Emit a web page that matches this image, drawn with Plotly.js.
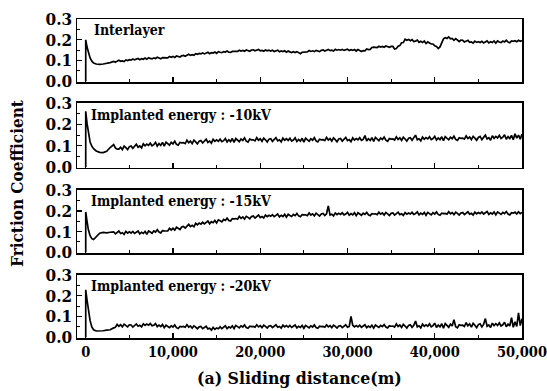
<!DOCTYPE html>
<html>
<head>
<meta charset="utf-8">
<script src="https://cdn.plot.ly/plotly-3.0.1.min.js"></script>
<style>
  html, body { margin: 0; padding: 0; background: #fff; }
  #chart { width: 547px; height: 391px; }
</style>
</head>
<body>
<div id="chart"></div>
<script>
// Sliding distance (m)
const distance = [0, 0, 150, 300, 500, 700, 900, 1200, 1600, 2000, 2400, 2800,
  3200, 3400, 3600, 3800, 4000, 4200, 4400, 4600, 4800, 5000,
  5200, 5400, 5600, 5800, 6000, 6200, 6400, 6600, 6800, 7000,
  7200, 7400, 7600, 7800, 8000, 8200, 8400, 8600, 8800, 9000,
  9200, 9400, 9600, 9800, 10000, 10200, 10400, 10600, 10800, 11000,
  11200, 11400, 11600, 11800, 12000, 12200, 12400, 12600, 12800, 13000,
  13200, 13400, 13600, 13800, 14000, 14200, 14400, 14600, 14800, 15000,
  15200, 15400, 15600, 15800, 16000, 16200, 16400, 16600, 16800, 17000,
  17200, 17400, 17600, 17800, 18000, 18200, 18400, 18600, 18800, 19000,
  19200, 19400, 19600, 19800, 20000, 20200, 20400, 20600, 20800, 21000,
  21200, 21400, 21600, 21800, 22000, 22200, 22400, 22600, 22800, 23000,
  23200, 23400, 23600, 23800, 24000, 24200, 24400, 24600, 24800, 25000,
  25200, 25400, 25600, 25800, 26000, 26200, 26400, 26600, 26800, 27000,
  27200, 27400, 27600, 27800, 28000, 28200, 28400, 28600, 28800, 29000,
  29200, 29400, 29600, 29800, 30000, 30200, 30400, 30600, 30800, 31000,
  31200, 31400, 31600, 31800, 32000, 32200, 32400, 32600, 32800, 33000,
  33200, 33400, 33600, 33800, 34000, 34200, 34400, 34600, 34800, 35000,
  35200, 35400, 35600, 35800, 36000, 36200, 36400, 36600, 36800, 37000,
  37200, 37400, 37600, 37800, 38000, 38200, 38400, 38600, 38800, 39000,
  39200, 39400, 39600, 39800, 40000, 40200, 40400, 40600, 40800, 41000,
  41200, 41400, 41600, 41800, 42000, 42200, 42400, 42600, 42800, 43000,
  43200, 43400, 43600, 43800, 44000, 44200, 44400, 44600, 44800, 45000,
  45200, 45400, 45600, 45800, 46000, 46200, 46400, 46600, 46800, 47000,
  47200, 47400, 47600, 47800, 48000, 48200, 48400, 48600, 48800, 49000,
  49200, 49400, 49600, 49800, 50000];

// Friction coefficient, Interlayer
const interlayer = [0, 0.200, 0.165, 0.137, 0.112, 0.097, 0.088, 0.083, 0.081, 0.083, 0.086, 0.090,
  0.096, 0.092, 0.097, 0.101, 0.096, 0.098, 0.095, 0.103, 0.100, 0.104,
  0.102, 0.107, 0.103, 0.105, 0.110, 0.104, 0.109, 0.106, 0.112, 0.106,
  0.113, 0.110, 0.108, 0.113, 0.110, 0.116, 0.110, 0.108, 0.114, 0.113,
  0.114, 0.113, 0.120, 0.116, 0.120, 0.115, 0.122, 0.120, 0.117, 0.123,
  0.125, 0.121, 0.126, 0.130, 0.125, 0.128, 0.125, 0.133, 0.130, 0.134,
  0.132, 0.137, 0.132, 0.135, 0.140, 0.133, 0.138, 0.136, 0.141, 0.135,
  0.143, 0.140, 0.138, 0.143, 0.141, 0.146, 0.140, 0.139, 0.144, 0.144,
  0.145, 0.144, 0.150, 0.146, 0.149, 0.145, 0.151, 0.149, 0.145, 0.151,
  0.152, 0.147, 0.151, 0.153, 0.147, 0.149, 0.145, 0.151, 0.147, 0.150,
  0.146, 0.150, 0.144, 0.146, 0.150, 0.142, 0.146, 0.143, 0.147, 0.140,
  0.146, 0.142, 0.139, 0.143, 0.139, 0.143, 0.136, 0.133, 0.140, 0.141,
  0.143, 0.142, 0.148, 0.144, 0.147, 0.143, 0.149, 0.147, 0.143, 0.149,
  0.151, 0.146, 0.150, 0.154, 0.148, 0.150, 0.146, 0.154, 0.150, 0.153,
  0.150, 0.154, 0.149, 0.151, 0.155, 0.148, 0.152, 0.149, 0.153, 0.146,
  0.153, 0.149, 0.144, 0.148, 0.147, 0.156, 0.153, 0.154, 0.163, 0.165,
  0.164, 0.163, 0.169, 0.165, 0.168, 0.164, 0.170, 0.168, 0.164, 0.168,
  0.168, 0.156, 0.158, 0.169, 0.172, 0.186, 0.187, 0.203, 0.198, 0.202,
  0.196, 0.201, 0.192, 0.194, 0.199, 0.188, 0.193, 0.187, 0.194, 0.182,
  0.190, 0.185, 0.180, 0.180, 0.171, 0.168, 0.158, 0.166, 0.189, 0.205,
  0.210, 0.207, 0.214, 0.205, 0.207, 0.198, 0.206, 0.200, 0.192, 0.199,
  0.198, 0.190, 0.195, 0.198, 0.188, 0.190, 0.184, 0.194, 0.188, 0.191,
  0.187, 0.193, 0.185, 0.189, 0.195, 0.185, 0.191, 0.187, 0.195, 0.184,
  0.195, 0.190, 0.187, 0.194, 0.190, 0.198, 0.189, 0.186, 0.195, 0.193,
  0.196, 0.191, 0.198, 0.193, 0.197];

// Implanted energy : -10kV
const kv10 = [0, 0.262, 0.205, 0.160, 0.118, 0.098, 0.086, 0.076, 0.069, 0.068, 0.074, 0.092,
  0.106, 0.090, 0.084, 0.084, 0.093, 0.082, 0.098, 0.091, 0.082, 0.096,
  0.099, 0.088, 0.099, 0.107, 0.093, 0.099, 0.090, 0.109, 0.100, 0.108,
  0.102, 0.112, 0.100, 0.105, 0.116, 0.099, 0.110, 0.102, 0.116, 0.098,
  0.117, 0.110, 0.103, 0.116, 0.109, 0.122, 0.107, 0.103, 0.116, 0.114,
  0.115, 0.110, 0.126, 0.114, 0.122, 0.110, 0.126, 0.118, 0.109, 0.122,
  0.125, 0.113, 0.124, 0.131, 0.116, 0.122, 0.112, 0.130, 0.121, 0.128,
  0.121, 0.131, 0.119, 0.124, 0.134, 0.118, 0.128, 0.120, 0.134, 0.116,
  0.134, 0.126, 0.119, 0.132, 0.125, 0.137, 0.122, 0.117, 0.131, 0.128,
  0.128, 0.123, 0.138, 0.126, 0.133, 0.121, 0.136, 0.128, 0.118, 0.131,
  0.133, 0.121, 0.131, 0.138, 0.123, 0.128, 0.118, 0.136, 0.126, 0.133,
  0.125, 0.135, 0.122, 0.127, 0.137, 0.120, 0.130, 0.122, 0.135, 0.117,
  0.136, 0.128, 0.121, 0.133, 0.126, 0.138, 0.123, 0.118, 0.131, 0.128,
  0.129, 0.124, 0.139, 0.127, 0.134, 0.122, 0.137, 0.129, 0.119, 0.132,
  0.134, 0.122, 0.132, 0.139, 0.124, 0.129, 0.119, 0.137, 0.127, 0.134,
  0.128, 0.138, 0.125, 0.130, 0.148, 0.123, 0.133, 0.125, 0.138, 0.120,
  0.139, 0.131, 0.124, 0.136, 0.129, 0.141, 0.126, 0.121, 0.134, 0.131,
  0.132, 0.127, 0.142, 0.130, 0.137, 0.125, 0.140, 0.132, 0.122, 0.135,
  0.138, 0.126, 0.136, 0.150, 0.128, 0.133, 0.123, 0.141, 0.131, 0.138,
  0.132, 0.142, 0.129, 0.134, 0.144, 0.127, 0.137, 0.129, 0.142, 0.124,
  0.143, 0.135, 0.128, 0.140, 0.133, 0.145, 0.130, 0.125, 0.138, 0.135,
  0.136, 0.131, 0.146, 0.134, 0.141, 0.129, 0.144, 0.136, 0.126, 0.139,
  0.144, 0.129, 0.141, 0.150, 0.132, 0.138, 0.126, 0.147, 0.135, 0.144,
  0.137, 0.149, 0.134, 0.140, 0.152, 0.131, 0.143, 0.134, 0.149, 0.128,
  0.156, 0.136, 0.150, 0.131, 0.155];

// Implanted energy : -15kV
const kv15 = [0, 0.195, 0.150, 0.110, 0.080, 0.066, 0.062, 0.075, 0.092, 0.096, 0.094, 0.097,
  0.099, 0.089, 0.097, 0.103, 0.091, 0.095, 0.087, 0.101, 0.093, 0.099,
  0.093, 0.101, 0.091, 0.095, 0.103, 0.089, 0.097, 0.091, 0.101, 0.087,
  0.103, 0.098, 0.092, 0.103, 0.098, 0.109, 0.098, 0.094, 0.105, 0.104,
  0.105, 0.103, 0.116, 0.108, 0.116, 0.107, 0.121, 0.117, 0.110, 0.122,
  0.125, 0.117, 0.127, 0.135, 0.124, 0.130, 0.124, 0.140, 0.133, 0.141,
  0.136, 0.145, 0.137, 0.142, 0.151, 0.138, 0.148, 0.143, 0.154, 0.142,
  0.157, 0.152, 0.147, 0.159, 0.154, 0.165, 0.154, 0.151, 0.163, 0.162,
  0.163, 0.160, 0.173, 0.164, 0.171, 0.161, 0.174, 0.169, 0.162, 0.173,
  0.175, 0.165, 0.174, 0.180, 0.168, 0.173, 0.166, 0.180, 0.172, 0.179,
  0.174, 0.182, 0.172, 0.177, 0.185, 0.171, 0.179, 0.173, 0.184, 0.170,
  0.184, 0.178, 0.173, 0.183, 0.177, 0.188, 0.176, 0.172, 0.182, 0.181,
  0.181, 0.177, 0.190, 0.180, 0.186, 0.176, 0.189, 0.182, 0.175, 0.185,
  0.188, 0.178, 0.186, 0.224, 0.180, 0.184, 0.176, 0.190, 0.182, 0.188,
  0.183, 0.191, 0.181, 0.185, 0.193, 0.179, 0.187, 0.181, 0.191, 0.177,
  0.191, 0.185, 0.179, 0.189, 0.183, 0.193, 0.181, 0.177, 0.187, 0.185,
  0.186, 0.182, 0.194, 0.184, 0.190, 0.180, 0.192, 0.186, 0.178, 0.188,
  0.190, 0.180, 0.188, 0.194, 0.182, 0.186, 0.178, 0.192, 0.184, 0.190,
  0.185, 0.193, 0.183, 0.187, 0.195, 0.181, 0.189, 0.183, 0.193, 0.179,
  0.193, 0.187, 0.181, 0.191, 0.185, 0.195, 0.183, 0.179, 0.189, 0.187,
  0.188, 0.184, 0.196, 0.186, 0.192, 0.182, 0.194, 0.188, 0.180, 0.190,
  0.192, 0.182, 0.190, 0.196, 0.184, 0.188, 0.180, 0.194, 0.186, 0.192,
  0.187, 0.195, 0.185, 0.189, 0.197, 0.183, 0.191, 0.185, 0.195, 0.181,
  0.195, 0.189, 0.183, 0.193, 0.187, 0.197, 0.185, 0.181, 0.191, 0.189,
  0.194, 0.185, 0.196, 0.187, 0.192];

// Implanted energy : -20kV
const kv20 = [0, 0.229, 0.180, 0.133, 0.080, 0.050, 0.036, 0.030, 0.029, 0.031, 0.034, 0.036,
  0.045, 0.048, 0.062, 0.053, 0.060, 0.050, 0.063, 0.057, 0.050, 0.060,
  0.059, 0.049, 0.058, 0.064, 0.053, 0.058, 0.050, 0.065, 0.057, 0.064,
  0.058, 0.066, 0.055, 0.058, 0.066, 0.051, 0.058, 0.051, 0.061, 0.046,
  0.058, 0.052, 0.046, 0.055, 0.049, 0.059, 0.046, 0.042, 0.052, 0.050,
  0.052, 0.048, 0.060, 0.049, 0.054, 0.044, 0.055, 0.049, 0.041, 0.050,
  0.052, 0.041, 0.048, 0.053, 0.040, 0.043, 0.034, 0.047, 0.038, 0.045,
  0.041, 0.050, 0.041, 0.046, 0.055, 0.041, 0.050, 0.045, 0.055, 0.042,
  0.057, 0.051, 0.045, 0.055, 0.049, 0.059, 0.047, 0.043, 0.053, 0.051,
  0.052, 0.048, 0.060, 0.050, 0.056, 0.046, 0.058, 0.052, 0.044, 0.054,
  0.056, 0.046, 0.054, 0.060, 0.048, 0.052, 0.044, 0.058, 0.050, 0.056,
  0.049, 0.057, 0.047, 0.051, 0.059, 0.045, 0.053, 0.047, 0.057, 0.043,
  0.057, 0.051, 0.045, 0.055, 0.049, 0.059, 0.047, 0.043, 0.053, 0.051,
  0.052, 0.048, 0.060, 0.050, 0.056, 0.046, 0.058, 0.052, 0.044, 0.054,
  0.056, 0.046, 0.054, 0.060, 0.048, 0.052, 0.100, 0.058, 0.050, 0.056,
  0.050, 0.058, 0.048, 0.052, 0.060, 0.046, 0.054, 0.048, 0.058, 0.044,
  0.059, 0.053, 0.047, 0.057, 0.051, 0.061, 0.049, 0.045, 0.055, 0.053,
  0.054, 0.049, 0.064, 0.052, 0.059, 0.047, 0.062, 0.054, 0.044, 0.057,
  0.060, 0.048, 0.058, 0.078, 0.050, 0.055, 0.045, 0.063, 0.053, 0.060,
  0.053, 0.065, 0.050, 0.056, 0.068, 0.047, 0.059, 0.050, 0.065, 0.044,
  0.066, 0.057, 0.048, 0.063, 0.054, 0.085, 0.051, 0.045, 0.060, 0.057,
  0.058, 0.052, 0.070, 0.055, 0.064, 0.049, 0.067, 0.058, 0.046, 0.061,
  0.065, 0.050, 0.062, 0.090, 0.053, 0.059, 0.047, 0.068, 0.056, 0.065,
  0.057, 0.069, 0.054, 0.060, 0.072, 0.051, 0.063, 0.054, 0.095, 0.048,
  0.075, 0.052, 0.118, 0.056, 0.090];

const panelLabels = ['Interlayer', 'Implanted energy : -10kV', 'Implanted energy : -15kV', 'Implanted energy : -20kV'];
const xTickVals = [0, 10000, 20000, 30000, 40000, 50000];
const xTickText = ['0', '10,000', '20,000', '30,000', '40,000', '50,000'];
const yTickVals = [0, 0.1, 0.2, 0.3];
const yTickText = ['0.0', '0.1', '0.2', '0.3'];
const xTitle = '(a) Sliding distance(m)';
const yTitle = 'Friction Coefficient';

const series = [interlayer, kv10, kv15, kv20];
const FONT = 'DejaVu Serif Condensed, DejaVu Serif, serif';

const domains = [[0.8025, 1.0], [0.533, 0.737], [0.266, 0.464], [0.0, 0.1975]];

const traces = series.map((ys, i) => ({
  x: distance, y: ys, type: 'scatter', mode: 'lines',
  xaxis: i === 0 ? 'x' : 'x' + (i + 1),
  yaxis: i === 0 ? 'y' : 'y' + (i + 1),
  line: { color: '#000', width: 1.7 },
  hoverinfo: 'skip', showlegend: false
}));

const layout = {
  width: 547, height: 391,
  margin: { l: 77, r: 25, t: 19, b: 53 },
  paper_bgcolor: '#fff', plot_bgcolor: '#fff',
  font: { family: FONT, color: '#000' },
  showlegend: false,
  annotations: []
};

for (let i = 0; i < 4; i++) {
  const xs = i === 0 ? 'xaxis' : 'xaxis' + (i + 1);
  const ys = i === 0 ? 'yaxis' : 'yaxis' + (i + 1);
  const yid = i === 0 ? 'y' : 'y' + (i + 1);
  const xid = i === 0 ? 'x' : 'x' + (i + 1);
  layout[xs] = {
    domain: [0, 1], anchor: yid,
    range: [-1000, 50000],
    showline: true, linecolor: '#000', linewidth: 1.5, mirror: true,
    showgrid: false, zeroline: false,
    ticks: 'inside', ticklen: 5, tickwidth: 1.2, tickcolor: '#000',
    tickmode: 'array', tickvals: xTickVals, ticktext: xTickText,
    minor: { ticks: 'inside', dtick: 5000, tick0: 0, ticklen: 3, tickwidth: 1, tickcolor: '#000' },
    showticklabels: i === 3,
    ticklabeloverflow: 'allow',
    tickfont: { family: FONT, size: 14.5, color: '#000', weight: 700 }
  };
  layout[ys] = {
    domain: domains[i], anchor: xid,
    range: [-0.004, 0.301],
    showline: true, linecolor: '#000', linewidth: 1.5, mirror: true,
    showgrid: false, zeroline: false,
    ticks: 'inside', ticklen: 5, tickwidth: 1.2, tickcolor: '#000',
    tickmode: 'array', tickvals: yTickVals, ticktext: yTickText,
    minor: { ticks: 'inside', dtick: 0.05, tick0: 0, ticklen: 3, tickwidth: 1, tickcolor: '#000' },
    ticklabeloverflow: 'allow',
    tickfont: { family: FONT, size: 17, color: '#000', weight: 700 }
  };
  layout.annotations.push({
    xref: xid + ' domain', yref: yid + ' domain',
    x: i === 0 ? 0.034 : 0.027, y: 0.82, xanchor: 'left', yanchor: 'middle',
    text: panelLabels[i], showarrow: false,
    font: { family: FONT, size: 14, color: '#000', weight: 700 }
  });
}

layout.annotations.push({
  xref: 'paper', yref: 'paper', x: 0.5, y: -0.125,
  xanchor: 'center', yanchor: 'middle', showarrow: false,
  text: xTitle, font: { family: FONT, size: 17.5, color: '#000', weight: 700 }
});
layout.annotations.push({
  xref: 'paper', yref: 'paper', x: -0.135, y: 0.486,
  xanchor: 'center', yanchor: 'middle', showarrow: false, textangle: -90,
  text: yTitle, font: { family: FONT, size: 17, color: '#000', weight: 700 }
});

Plotly.newPlot('chart', traces, layout, { staticPlot: true, displayModeBar: false });
</script>
</body>
</html>
